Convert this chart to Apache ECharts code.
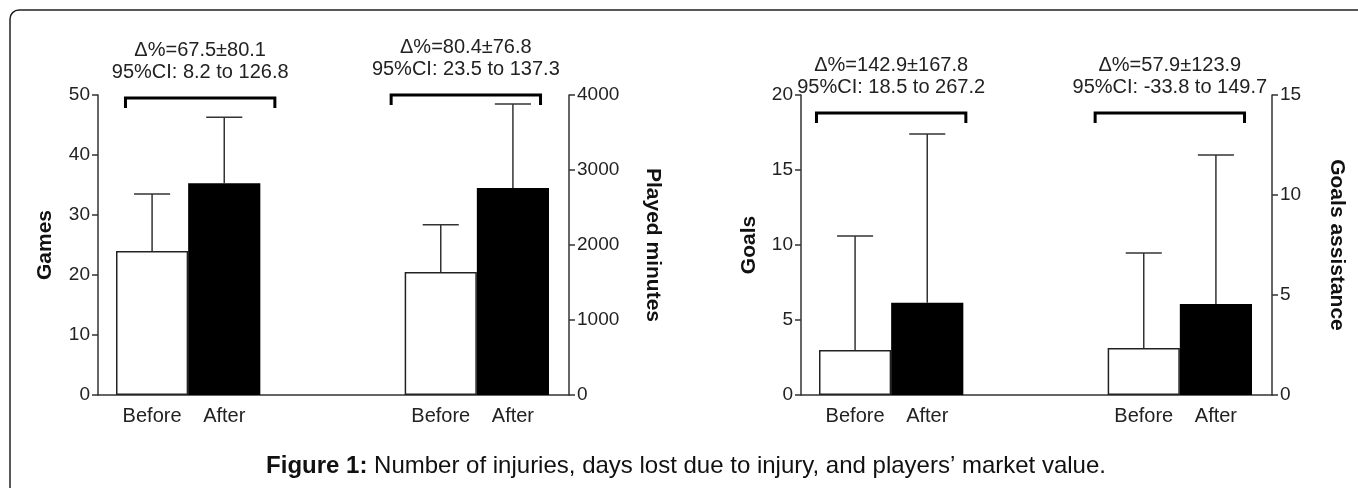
<!DOCTYPE html>
<html>
<head>
<meta charset="utf-8">
<script src="https://cdn.jsdelivr.net/npm/echarts@6/dist/echarts.min.js"></script>
<style>
html,body{margin:0;padding:0;background:#fff;}
#chart{width:1358px;height:488px;}
</style>
</head>
<body>
<div id="chart"></div>
<script>
// ---- data ----
var categories = ['Before', 'After', '', '', 'Before', 'After'];
var games = [24.0, 35.3];
var gamesUpper = [33.5, 46.3];
var minutes = [1640, 2760];
var minutesUpper = [2270, 3880];
var goals = [3.0, 6.15];
var goalsUpper = [10.6, 17.4];
var assists = [2.35, 4.55];
var assistsUpper = [7.1, 12.0];
var annotations = [
  ['\u0394%=67.5\u00b180.1', '95%CI: 8.2 to 126.8'],
  ['\u0394%=80.4\u00b176.8', '95%CI: 23.5 to 137.3'],
  ['\u0394%=142.9\u00b1167.8', '95%CI: 18.5 to 267.2'],
  ['\u0394%=57.9\u00b1123.9', '95%CI: -33.8 to 149.7']
];
var bracketLevels = [49.5, 4000, 18.8, 14.1];
var axisNames = ['Games', 'Played minutes', 'Goals', 'Goals assistance'];
var captionLabel = 'Figure 1:';
var caption = 'Number of injuries, days lost due to injury, and players\u2019 market value.';

// ---- layout / style ----
var FONT = '"Liberation Sans", Arial, sans-serif';
var AX = '#333';
var bracketShift = [12, -11, 0, -10]; // px shift of bracket centre

function barData(vals, startIdx) {
  var d = [];
  for (var i = 0; i < categories.length; i++) d.push('-');
  vals.forEach(function (v, k) {
    d[startIdx + k] = {
      value: v,
      itemStyle: k === 0 ? {color: '#fff', borderColor: '#222', borderWidth: 1.5}
                         : {color: '#000', borderColor: '#000', borderWidth: 1.5}
    };
  });
  return d;
}
function errData(vals, upper, startIdx) {
  return vals.map(function (v, k) { return [startIdx + k, v, upper[k]]; });
}
function renderErr(params, api) {
  var x = api.value(0);
  var p0 = api.coord([x, api.value(1)]);
  var p1 = api.coord([x, api.value(2)]);
  var half = api.size([1, 0])[0] * 0.25;
  return {
    type: 'group',
    children: [
      {type: 'line', shape: {x1: p0[0], y1: p0[1], x2: p1[0], y2: p1[1]}, style: {stroke: '#333', lineWidth: 1.5}},
      {type: 'line', shape: {x1: p1[0] - half, y1: p1[1], x2: p1[0] + half, y2: p1[1]}, style: {stroke: '#333', lineWidth: 1.5}}
    ]
  };
}
function makeBracket(gi) {
  return function (params, api) {
    var x = api.value(0);
    var lv = api.value(1);
    var a = api.coord([x, lv]);
    var b = api.coord([x + 1, lv]);
    var band = api.size([1, 0])[0];
    var cx = (a[0] + b[0]) / 2 + bracketShift[gi];
    var w = band * 2.07;
    var l = cx - w / 2, r = cx + w / 2, y = a[1];
    return {
      type: 'group',
      children: [
        {type: 'polyline', shape: {points: [[l, y + 10], [l, y], [r, y], [r, y + 10]]},
         style: {stroke: '#000', lineWidth: 3, fill: null}},
        {type: 'text', style: {text: annotations[gi][0], x: cx, y: y - 48, align: 'center', verticalAlign: 'middle',
          font: '20px ' + FONT, fill: '#222'}},
        {type: 'text', style: {text: annotations[gi][1], x: cx, y: y - 26, align: 'center', verticalAlign: 'middle',
          font: '20px ' + FONT, fill: '#222'}}
      ]
    };
  };
}

var yBase = {
  type: 'value',
  axisLine: {show: true, lineStyle: {color: AX, width: 1.5}},
  axisTick: {show: true, length: 6, lineStyle: {color: AX, width: 1.5}},
  axisLabel: {fontSize: 19, color: '#222', fontFamily: FONT, margin: 8, formatter: function (v) { return String(v); }},
  splitLine: {show: false},
  nameLocation: 'middle',
  nameTextStyle: {fontSize: 21, fontWeight: 'bold', color: '#111', fontFamily: FONT}
};
function yAx(o) { return Object.assign({}, yBase, o); }

var xCat = function (gi) {
  return {
    type: 'category', gridIndex: gi, data: categories,
    axisLine: {show: false}, axisTick: {show: false},
    axisLabel: {fontSize: 20, color: '#222', fontFamily: FONT, margin: 11, interval: 0}
  };
};
var xLine = function (gi) {
  return {
    type: 'value', gridIndex: gi, min: 0, max: 1,
    axisLine: {show: true, onZero: false, lineStyle: {color: AX, width: 1.5}},
    axisTick: {show: false}, axisLabel: {show: false}, splitLine: {show: false}
  };
};

var chart = echarts.init(document.getElementById('chart'));
chart.setOption({
  animation: false,
  backgroundColor: '#fff',
  textStyle: {fontFamily: FONT},
  graphic: [{
    type: 'rect', shape: {x: 10, y: 10, width: 1500, height: 700, r: 9},
    style: {fill: 'none', stroke: '#222', lineWidth: 1.5}, z: -1
  }, {
    type: 'text', x: 686, y: 466,
    style: {
      text: '{b|' + captionLabel + '} ' + caption,
      align: 'center', verticalAlign: 'middle',
      font: '24px ' + FONT, fill: '#111',
      rich: {b: {fontSize: 24, fontWeight: 'bold', fontFamily: FONT, fill: '#111'}}
    }
  }],
  grid: [
    {left: 116, width: 433, top: 95, bottom: 93},
    {left: 819, width: 433, top: 95, bottom: 93},
    {left: 98, width: 471, top: 95, bottom: 93},
    {left: 801, width: 471, top: 95, bottom: 93}
  ],
  xAxis: [xCat(0), xCat(1), xLine(2), xLine(3)],
  yAxis: [
    yAx({gridIndex: 0, min: 0, max: 50, interval: 10, offset: 18, position: 'left',
         name: axisNames[0], nameGap: 42, nameRotate: 90}),
    yAx({gridIndex: 0, min: 0, max: 4000, interval: 1000, offset: 20, position: 'right',
         name: axisNames[1], nameGap: 73, nameRotate: -90}),
    yAx({gridIndex: 1, min: 0, max: 20, interval: 5, offset: 18, position: 'left',
         name: axisNames[2], nameGap: 41, nameRotate: 90}),
    yAx({gridIndex: 1, min: 0, max: 15, interval: 5, offset: 20, position: 'right',
         name: axisNames[3], nameGap: 54, nameRotate: -90}),
    {type: 'value', gridIndex: 2, show: false, min: 0, max: 1},
    {type: 'value', gridIndex: 3, show: false, min: 0, max: 1}
  ],
  series: [
    {type: 'bar', xAxisIndex: 0, yAxisIndex: 0, data: barData(games, 0), barWidth: '100%', barGap: '-100%'},
    {type: 'bar', xAxisIndex: 0, yAxisIndex: 1, data: barData(minutes, 4), barWidth: '100%', barGap: '-100%'},
    {type: 'bar', xAxisIndex: 1, yAxisIndex: 2, data: barData(goals, 0), barWidth: '100%', barGap: '-100%'},
    {type: 'bar', xAxisIndex: 1, yAxisIndex: 3, data: barData(assists, 4), barWidth: '100%', barGap: '-100%'},
    {type: 'custom', xAxisIndex: 0, yAxisIndex: 0, data: errData(games, gamesUpper, 0), renderItem: renderErr, z: 5},
    {type: 'custom', xAxisIndex: 0, yAxisIndex: 1, data: errData(minutes, minutesUpper, 4), renderItem: renderErr, z: 5},
    {type: 'custom', xAxisIndex: 1, yAxisIndex: 2, data: errData(goals, goalsUpper, 0), renderItem: renderErr, z: 5},
    {type: 'custom', xAxisIndex: 1, yAxisIndex: 3, data: errData(assists, assistsUpper, 4), renderItem: renderErr, z: 5},
    {type: 'custom', xAxisIndex: 0, yAxisIndex: 0, data: [[0, bracketLevels[0]]], renderItem: makeBracket(0), z: 6},
    {type: 'custom', xAxisIndex: 0, yAxisIndex: 1, data: [[4, bracketLevels[1]]], renderItem: makeBracket(1), z: 6},
    {type: 'custom', xAxisIndex: 1, yAxisIndex: 2, data: [[0, bracketLevels[2]]], renderItem: makeBracket(2), z: 6},
    {type: 'custom', xAxisIndex: 1, yAxisIndex: 3, data: [[4, bracketLevels[3]]], renderItem: makeBracket(3), z: 6}
  ]
});
</script>
</body>
</html>
